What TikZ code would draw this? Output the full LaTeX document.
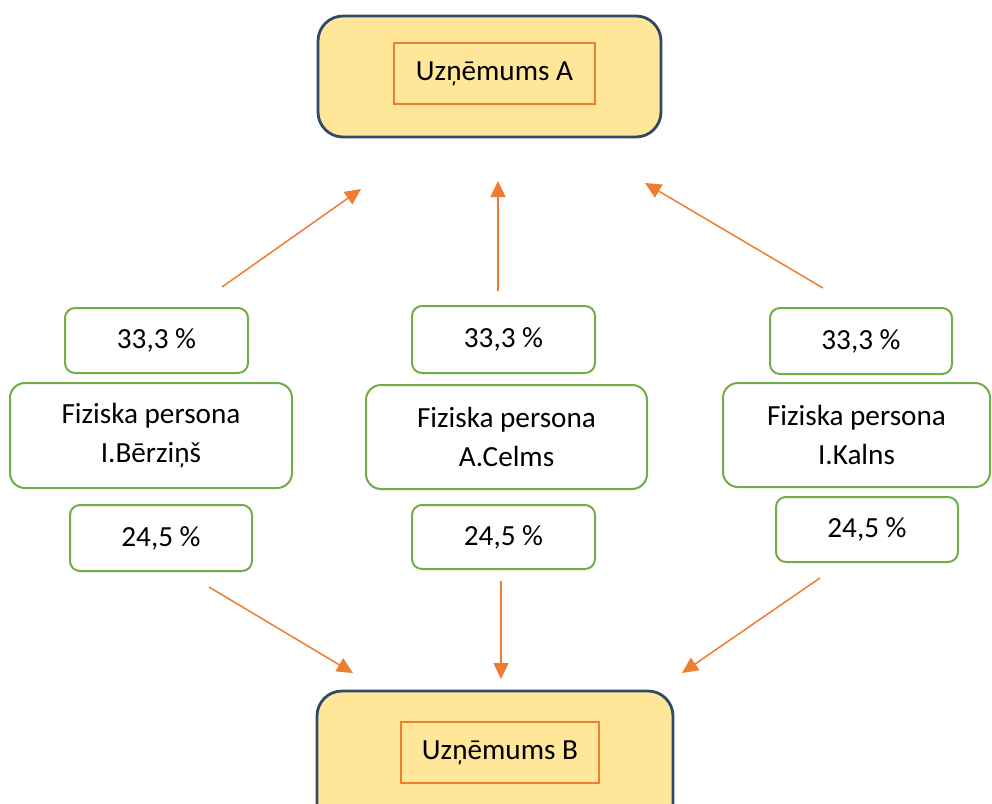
\documentclass[tikz,border=0pt]{standalone}
\usepackage{fontspec}
\setmainfont{Carlito}
\usetikzlibrary{arrows.meta}
\definecolor{boxfill}{HTML}{FFE699}
\definecolor{boxline}{HTML}{2F4A68}
\definecolor{orng}{HTML}{ED7D31}
\definecolor{grn}{HTML}{70AD47}
\tikzset{
  company/.style={draw=boxline, line width=1.4pt, fill=boxfill, rounded corners=12.5pt},
  inner/.style={draw=orng, line width=1.2pt, fill=boxfill, inner sep=0pt},
  pct/.style={draw=grn, line width=1pt, fill=white, rounded corners=5pt, inner sep=0pt},
  person/.style={draw=grn, line width=1pt, fill=white, rounded corners=7.5pt, inner sep=0pt, align=center},
  flow/.style={draw=orng, line width=0.75pt, -{Triangle[length=8pt,width=7.5pt]}},
}
\begin{document}
\begin{tikzpicture}[x=0.5pt,y=-0.5pt, font=\fontsize{14.6}{19.5}\selectfont]
\useasboundingbox (0,0) rectangle (992,804);
% companies
\node[company, minimum width=171.5pt, minimum height=60.5pt] (A) at (489.5,76.5) {};
\node[inner, minimum width=100.5pt, minimum height=30.5pt] (Ain) at (494.5,73.5) {Uzņēmums A};
\node[company, minimum width=178pt, minimum height=69pt] (B) at (495,760) {};
\node[inner, minimum width=99pt, minimum height=30.5pt] (Bin) at (500,752.5) {Uzņēmums B};
% left column
\node[pct, minimum width=91.5pt, minimum height=32.5pt] (p1) at (156.5,340.5) {33,3 \%};
\node[person, minimum width=141pt, minimum height=52.5pt] (f1) at (151,435.5) {Fiziska persona\\I.Bērziņš};
\node[pct, minimum width=91pt, minimum height=33pt] (q1) at (161,538) {24,5 \%};
% middle column
\node[pct, minimum width=91.5pt, minimum height=33.5pt] (p2) at (503.5,339.5) {33,3 \%};
\node[person, minimum width=140.5pt, minimum height=52pt] (f2) at (506.5,437) {Fiziska persona\\A.Celms};
\node[pct, minimum width=91.5pt, minimum height=32pt] (q2) at (503.5,537) {24,5 \%};
% right column
\node[pct, minimum width=91pt, minimum height=33pt] (p3) at (861,341) {33,3 \%};
\node[person, minimum width=133.5pt, minimum height=52pt] (f3) at (856.5,435) {Fiziska persona\\I.Kalns};
\node[pct, minimum width=91pt, minimum height=32.5pt] (q3) at (867,529.5) {24,5 \%};
% arrow ends
\coordinate (u1s) at (222,287); \coordinate (u1e) at (361,189);
\coordinate (u2s) at (498,291); \coordinate (u2e) at (498,181);
\coordinate (u3s) at (823,288); \coordinate (u3e) at (645,183);
\coordinate (d1s) at (209,587); \coordinate (d1e) at (353,673);
\coordinate (d2s) at (501,581); \coordinate (d2e) at (501,679);
\coordinate (d3s) at (820,578); \coordinate (d3e) at (682,673);
\draw[flow] (u1s) -- (u1e);
\draw[flow] (u2s) -- (u2e);
\draw[flow] (u3s) -- (u3e);
\draw[flow] (d1s) -- (d1e);
\draw[flow] (d2s) -- (d2e);
\draw[flow] (d3s) -- (d3e);
\end{tikzpicture}
\end{document}
